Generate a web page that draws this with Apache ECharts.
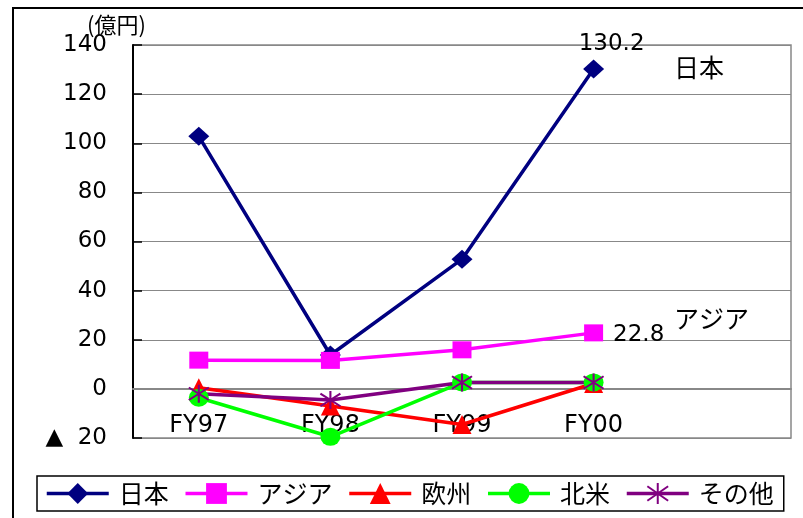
<!DOCTYPE html>
<html>
<head>
<meta charset="utf-8">
<script src="https://cdn.jsdelivr.net/npm/echarts@6/dist/echarts.min.js"></script>
<style>
html,body{margin:0;padding:0;background:#fff;}
#chart{width:803px;height:518px;}
</style>
</head>
<body>
<div id="chart"></div>
<script>
const categories = ['FY97', 'FY98', 'FY99', 'FY00', ''];
const seriesNames = ['日本', 'アジア', '欧州', '北米', 'その他'];
const japan = [102.8, 13.8, 52.8, 130.2];
const asia = [11.7, 11.6, 15.9, 22.8];
const europe = [0.5, -7, -14.5, 2.2];
const northAmerica = [-3.6, -19.5, 2.6, 2.6];
const others = [-2, -4.5, 2.6, 2.6];
const yTicks = { min: -20, max: 140, interval: 20 };
const unitLabel = '(億円)';

const JP = "'Noto Sans CJK JP', sans-serif";
const NUM = "'DejaVu Sans', sans-serif";
const asterisk = 'path://M0,-10 L0,10 M-9,-7 L9,7 M-9,7 L9,-7';

const chart = echarts.init(document.getElementById('chart'));

function lineSeries(name, data, color, symbol, size, extra) {
  return Object.assign({
    name: name,
    type: 'line',
    data: data,
    symbol: symbol,
    symbolSize: size,
    showAllSymbol: true,
    lineStyle: { color: color, width: 3.5 },
    itemStyle: { color: color },
    emphasis: { disabled: true },
    animation: false,
    z: 3
  }, extra || {});
}

chart.setOption({
  animation: false,
  backgroundColor: '#fff',
  textStyle: { fontFamily: NUM },
  grid: {
    left: 133, right: 12, top: 45, bottom: 80,
    show: true, borderColor: '#888', borderWidth: 1.5
  },
  xAxis: {
    type: 'category',
    data: categories,
    boundaryGap: true,
    z: 1,
    axisLine: { onZero: true, lineStyle: { color: '#888', width: 2 } },
    axisTick: { inside: true, length: 9, lineStyle: { color: '#000', width: 1.5 } },
    axisLabel: { margin: -24, fontSize: 24, color: '#000', fontFamily: NUM },
    splitLine: { show: false }
  },
  yAxis: {
    type: 'value',
    min: yTicks.min, max: yTicks.max, interval: yTicks.interval,
    axisLine: { show: true, lineStyle: { color: '#000', width: 2 } },
    axisTick: { show: true, inside: true, length: 9, lineStyle: { color: '#000', width: 1.5 } },
    axisLabel: {
      margin: 26, fontSize: 23, color: '#000', fontFamily: NUM,
      formatter: v => v < 0 ? '▲  ' + (-v) : String(v)
    },
    splitLine: { show: true, lineStyle: { color: '#888', width: 1.2 } }
  },
  legend: {
    data: seriesNames,
    left: 37, top: 476,
    padding: [5, 10, 5, 8],
    itemGap: 15,
    itemWidth: 62, itemHeight: 26,
    borderColor: '#000', borderWidth: 1.5,
    lineStyle: { width: 3.5 },
    textStyle: { fontFamily: JP, fontSize: 25, color: '#000', padding: [0, 0, 0, 5] }
  },
  series: [
    lineSeries('日本', japan, '#000080', 'diamond', [21, 19], {
      label: {
        show: true, position: 'top', distance: 4, offset: [18, 0],
        fontSize: 23, color: '#000', fontFamily: NUM,
        formatter: p => p.dataIndex === 3 ? String(p.value) : ''
      }
    }),
    lineSeries('アジア', asia, '#FF00FF', 'rect', [19, 17], {
      label: {
        show: true, position: 'right', distance: 10, offset: [0, 2],
        fontSize: 23, color: '#000', fontFamily: NUM,
        formatter: p => p.dataIndex === 3 ? String(p.value) : ''
      }
    }),
    lineSeries('欧州', europe, '#FF0000', 'triangle', [19, 19]),
    lineSeries('北米', northAmerica, '#00FF00', 'circle', [20, 18]),
    lineSeries('その他', others, '#800080', asterisk, [20, 18], {
      itemStyle: { color: '#800080', borderColor: '#800080', borderWidth: 2 }
    })
  ],
  graphic: [
    { type: 'rect', shape: { x: 13, y: 8, width: 830, height: 560 },
      style: { fill: 'none', stroke: '#000', lineWidth: 2 }, silent: true },
    { type: 'text', left: 87, top: 14,
      style: { text: unitLabel, font: "22px 'Noto Sans CJK JP'", fill: '#000' } },
    { type: 'text', left: 674, top: 55,
      style: { text: '日本', font: "25px 'Noto Sans CJK JP'", fill: '#000' } },
    { type: 'text', left: 674, top: 306,
      style: { text: 'アジア', font: "25px 'Noto Sans CJK JP'", fill: '#000' } }
  ]
});
</script>
</body>
</html>
